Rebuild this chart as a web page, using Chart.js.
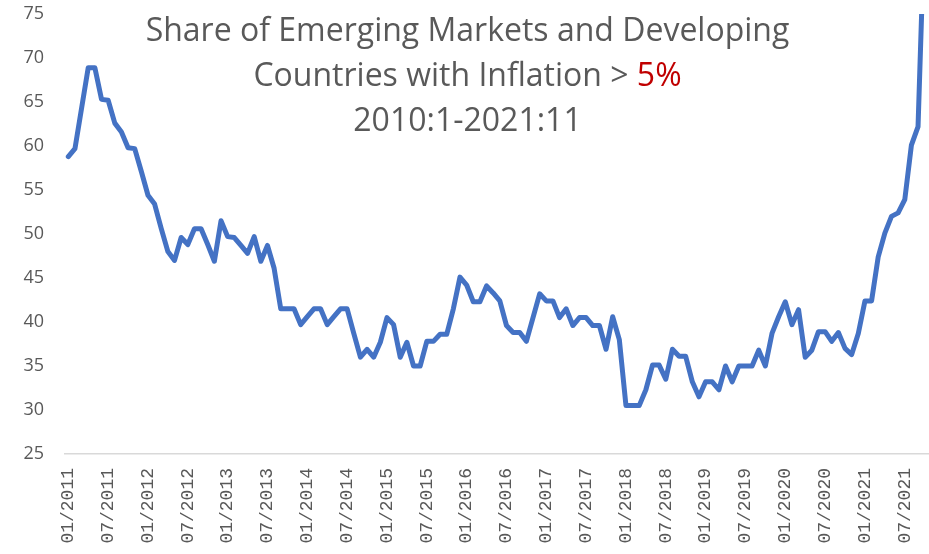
<!DOCTYPE html>
<html>
<head>
<meta charset="utf-8">
<script src="https://cdn.jsdelivr.net/npm/chart.js@4/dist/chart.umd.min.js"></script>
<style>
  html, body { margin: 0; padding: 0; background: #fff; }
  #wrap { position: relative; width: 929px; height: 554px; }
  #chart { position: absolute; left: 0; top: 0; }
  #title {
    position: absolute; left: 3px; top: 6px; width: 929px;
    text-align: center; font-family: 'Open Sans', sans-serif;
    font-size: 32px; line-height: 45px; color: #595959; pointer-events: none;
  }
  #title .red { color: #C00000; }
</style>
</head>
<body>
<div id="wrap">
  <canvas id="chart" width="929" height="554"></canvas>
  <div id="title">Share of Emerging Markets and Developing<br>Countries with Inflation &gt; <span class="red">5%</span><br>2010:1-2021:11</div>
</div>
<script>
// ---- data ----
const months = [
  '01/2011','02/2011','03/2011','04/2011','05/2011','06/2011','07/2011','08/2011','09/2011','10/2011','11/2011','12/2011',
  '01/2012','02/2012','03/2012','04/2012','05/2012','06/2012','07/2012','08/2012','09/2012','10/2012','11/2012','12/2012',
  '01/2013','02/2013','03/2013','04/2013','05/2013','06/2013','07/2013','08/2013','09/2013','10/2013','11/2013','12/2013',
  '01/2014','02/2014','03/2014','04/2014','05/2014','06/2014','07/2014','08/2014','09/2014','10/2014','11/2014','12/2014',
  '01/2015','02/2015','03/2015','04/2015','05/2015','06/2015','07/2015','08/2015','09/2015','10/2015','11/2015','12/2015',
  '01/2016','02/2016','03/2016','04/2016','05/2016','06/2016','07/2016','08/2016','09/2016','10/2016','11/2016','12/2016',
  '01/2017','02/2017','03/2017','04/2017','05/2017','06/2017','07/2017','08/2017','09/2017','10/2017','11/2017','12/2017',
  '01/2018','02/2018','03/2018','04/2018','05/2018','06/2018','07/2018','08/2018','09/2018','10/2018','11/2018','12/2018',
  '01/2019','02/2019','03/2019','04/2019','05/2019','06/2019','07/2019','08/2019','09/2019','10/2019','11/2019','12/2019',
  '01/2020','02/2020','03/2020','04/2020','05/2020','06/2020','07/2020','08/2020','09/2020','10/2020','11/2020','12/2020',
  '01/2021','02/2021','03/2021','04/2021','05/2021','06/2021','07/2021','08/2021','09/2021','10/2021'
];

const shareAbove5 = [
  58.8, 59.7, 64.3, 68.9, 68.9, 65.3, 65.2, 62.6, 61.6, 59.8, 59.7, 57.1,
  54.4, 53.4, 50.6, 48.0, 47.0, 49.6, 48.8, 50.6, 50.6, 48.8, 46.9, 51.5,
  49.7, 49.6, 48.7, 47.8, 49.7, 46.9, 48.7, 46.1, 41.5, 41.5, 41.5, 39.7,
  40.6, 41.5, 41.5, 39.7, 40.6, 41.5, 41.5, 38.7, 36.0, 36.9, 36.0, 37.7,
  40.5, 39.7, 36.0, 37.7, 35.0, 35.0, 37.8, 37.8, 38.6, 38.6, 41.5, 45.1,
  44.2, 42.3, 42.3, 44.1, 43.3, 42.4, 39.6, 38.8, 38.8, 37.8, 40.5, 43.2,
  42.4, 42.4, 40.5, 41.5, 39.6, 40.5, 40.5, 39.6, 39.6, 36.9, 40.6, 38.0,
  30.5, 30.5, 30.5, 32.3, 35.1, 35.1, 33.5, 36.9, 36.1, 36.1, 33.2, 31.5,
  33.2, 33.2, 32.3, 35.0, 33.2, 35.0, 35.0, 35.0, 36.8, 35.0, 38.7, 40.6,
  42.3, 39.7, 41.4, 36.0, 36.8, 38.9, 38.9, 37.8, 38.8, 37.0, 36.3, 38.7,
  42.4, 42.4, 47.4, 50.1, 52.0, 52.4, 53.9, 60.1, 62.2, 86.0
];

const tickLabels = [
  '01/2011','07/2011','01/2012','07/2012','01/2013','07/2013','01/2014','07/2014',
  '01/2015','07/2015','01/2016','07/2016','01/2017','07/2017','01/2018','07/2018',
  '01/2019','07/2019','01/2020','07/2020','01/2021','07/2021'
];

const yMin = 25;
const yMax = 75;
const yStep = 5;

// ---- chart ----
const ctx = document.getElementById('chart').getContext('2d');
new Chart(ctx, {
  type: 'line',
  data: {
    labels: months,
    datasets: [{
      data: shareAbove5,
      borderColor: '#4472C4',
      borderWidth: 5,
      borderJoinStyle: 'round',
      borderCapStyle: 'round',
      pointRadius: 0,
      tension: 0,
      fill: false
    }]
  },
  options: {
    responsive: false,
    devicePixelRatio: 1,
    animation: false,
    layout: { padding: { top: 14, right: 1, left: 0, bottom: 0 } },
    plugins: {
      legend: { display: false },
      title: { display: false },
      tooltip: { enabled: false }
    },
    scales: {
      x: {
        type: 'category',
        offset: true,
        grid: { display: false, drawTicks: false },
        border: { display: true, color: '#d9d9d9', width: 1.5 },
        ticks: {
          autoSkip: false,
          maxRotation: 90,
          minRotation: 90,
          padding: 14,
          color: '#595959',
          font: { family: "'Liberation Mono', monospace", size: 18 },
          callback: function (value, index) {
            const lbl = months[index];
            return tickLabels.includes(lbl) ? lbl : '';
          }
        },
        afterFit: function (scale) {
          scale.height = 100;
          scale.paddingLeft = 0;
          scale.paddingRight = 0;
        }
      },
      y: {
        min: yMin,
        max: yMax,
        grid: { display: false, drawTicks: false },
        border: { display: false },
        ticks: {
          stepSize: yStep,
          padding: 21,
          color: '#595959',
          font: { family: "'Open Sans', sans-serif", size: 18 }
        },
        afterFit: function (scale) {
          scale.width = 65;
          scale.paddingTop = 0;
          scale.paddingBottom = 0;
        }
      }
    }
  }
});
</script>
</body>
</html>
